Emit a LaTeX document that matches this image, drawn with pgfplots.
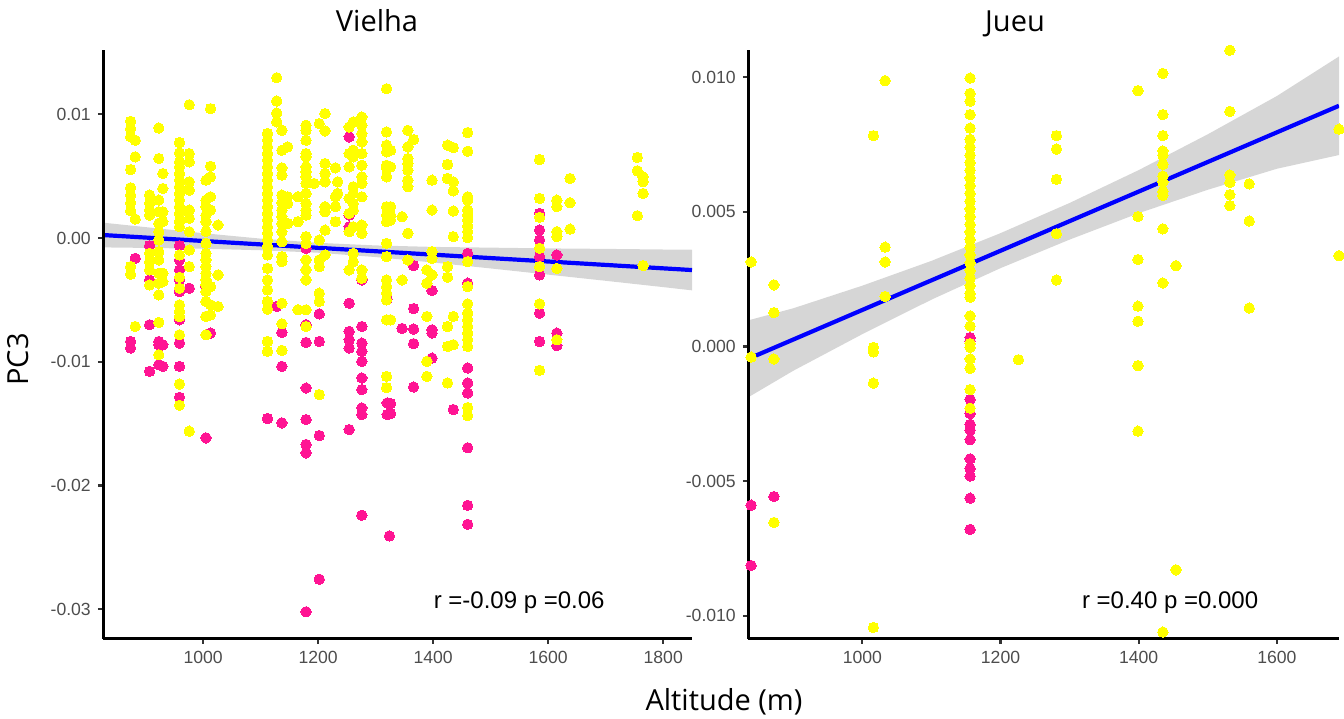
\documentclass[border=0pt]{standalone}
\usepackage{fontspec}
\setmainfont{Liberation Sans}
\newfontfamily\titlefont{Open Sans}
\usepackage{pgfplots}
\pgfplotsset{compat=1.18}
\definecolor{Yel}{RGB}{255,255,0}
\definecolor{Pnk}{RGB}{255,20,147}
\definecolor{Blu}{RGB}{0,0,255}
\definecolor{Band}{RGB}{153,153,153}
\definecolor{TickGray}{RGB}{77,77,77}
\pgfplotsset{
  panel/.style={
    scale only axis,
    axis x line*=bottom, axis y line*=left,
    axis line style={-, line width=1.5bp, black},
    tick align=outside,
    major tick length=2.6bp,
    tick style={line width=1.1bp, color=black!80},
    ticklabel style={font=\fontsize{8.8bp}{10bp}\selectfont, text=TickGray},
    scaled ticks=false,
    axis on top,
  },
  ptsY/.style={only marks, mark=*, mark size=2.6bp, mark options={fill=Yel, draw=Yel, line width=0pt}},
  ptsP/.style={only marks, mark=*, mark size=2.6bp, mark options={fill=Pnk, draw=Pnk, line width=0pt}},
  bandst/.style={draw=none, fill=Band, fill opacity=0.4},
  fitst/.style={Blu, line width=2.1bp},
}
\begin{document}
\begin{tikzpicture}
\useasboundingbox (0,0) rectangle (672bp,359.5bp);
% ---------------- Vielha ----------------
\begin{axis}[panel,
  at={(51.5bp,40.25bp)}, anchor=south west,
  width=294.5bp, height=294.25bp,
  xmin=826, xmax=1850, ymin=-0.03236, ymax=0.01519,
  xtick={1000,1200,1400,1600,1800},
  xticklabels={1000,1200,1400,1600,1800},
  ytick={-0.03,-0.02,-0.01,0,0.01},
  yticklabels={-0.03,-0.02,-0.01,0.00,0.01},
]
\addplot[ptsP] coordinates {
(874,-0.00836)(874,-0.00889)(882,-0.00164)
(907,-0.00062)(907,-0.00339)(907,-0.00701)(907,-0.01077)
(923,-0.00836)(923,-0.00863)(923,-0.01024)(930,-0.00863)(930,-0.01037)
(959,-0.00062)(959,-0.00177)(959,-0.00258)(959,-0.00339)(959,-0.00433)(959,-0.00661)(959,-0.00849)(959,-0.01037)(959,-0.01287)
(976,-0.00406)(1005,-0.00392)(1005,-0.00634)(1005,-0.01615)(1013,-0.00768)
(1112,-0.01459)(1128,-0.00553)(1137,-0.00763)(1137,-0.01037)(1137,-0.01494)
(1179,-0.00083)(1179,-0.00258)(1179,-0.00701)(1179,-0.00844)(1179,-0.01212)(1179,-0.01467)(1179,-0.01668)(1179,-0.01736)(1179,-0.0302)
(1202,-0.00613)(1202,-0.00836)(1202,-0.01596)(1202,-0.02757)
(1254,0.00817)(1254,0.00185)(1254,0.00091)(1254,-0.00527)(1254,-0.00755)(1254,-0.00822)(1254,-0.00889)(1254,-0.01548)
(1276,-0.00339)(1276,-0.00715)(1276,-0.00849)(1276,-0.00916)(1276,-0.00997)(1276,-0.01131)(1276,-0.01225)(1276,-0.01373)(1276,-0.01427)(1276,-0.0224)
(1320,-0.00494)(1320,-0.01333)(1320,-0.01427)(1324,-0.02407)(1326,-0.01338)(1326,-0.01418)
(1346,-0.00731)(1366,-0.00223)(1366,-0.0057)(1366,-0.00736)(1366,-0.00854)(1366,-0.01204)
(1398,-0.00425)(1398,-0.00742)(1398,-0.00768)(1398,-0.0097)(1435,-0.01386)
(1460,-0.00124)(1460,-0.00365)(1460,-0.0105)(1460,-0.01171)(1460,-0.01252)(1460,-0.01695)(1460,-0.0216)(1460,-0.02313)
(1585,0.00199)(1585,0.00064)(1585,-0.00016)(1585,-0.00083)(1585,-0.0015)(1585,-0.00298)(1585,-0.00607)(1585,-0.00836)
(1615,-0.00137)(1615,-0.00768)(1615,-0.0087)
};
\addplot[ptsY] coordinates {
(874,0.00943)(874,0.00884)(874,0.00817)(874,0.00553)(874,0.00406)(874,0.00347)(874,0.00285)(874,0.00220)(874,-0.00231)(874,-0.00293)
(882,0.00790)(882,0.00656)(882,0.00153)(882,-0.00715)
(907,0.00347)(907,0.00279)(907,0.00226)(907,0.00185)(907,-0.00124)(907,-0.00191)(907,-0.00258)(907,-0.00379)
(923,0.00889)(923,0.00642)(923,0.00306)(923,0.00212)(923,0.00118)(923,0.00051)(923,-0.00016)(923,-0.0011)(923,-0.00177)(923,-0.00285)(923,-0.00365)(923,-0.00459)(923,-0.00682)(923,-0.00943)
(930,0.00521)(930,0.0040)(930,0.00212)(930,0.00132)(930,-0.00285)(930,-0.00352)
(959,0.00771)(959,0.00688)(959,0.00615)(959,0.00575)(959,0.00521)(959,0.00467)(959,0.00414)(959,0.0036)(959,0.00306)(959,0.00253)(959,0.00199)(959,0.00132)(959,0.00091)(959,-0.00137)(959,-0.00317)(959,-0.00406)(959,-0.0054)(959,-0.00594)(959,-0.00634)(959,-0.00782)(959,-0.0118)(959,-0.01351)
(976,0.01077)(976,0.00682)(976,0.00615)(976,0.00454)(976,0.00387)(976,0.00226)(976,0.00159)(976,0.00051)(976,-0.00097)(976,-0.00231)(976,-0.01561)
(1005,0.00467)(1005,0.00306)(1005,0.00253)(1005,0.00185)(1005,0.00132)(1005,0.00054)(1005,-0.00043)(1005,-0.00124)(1005,-0.00177)(1005,-0.00231)(1005,-0.00285)(1005,-0.00339)(1005,-0.00379)(1005,-0.00433)(1005,-0.00513)(1005,-0.00634)(1005,-0.00782)
(1013,0.01045)(1013,0.0058)(1013,0.00494)(1013,0.00333)(1013,0.00226)(1013,-0.00392)(1013,-0.0054)(1013,-0.00621)
(1026,0.00105)(1026,-0.00298)(1026,-0.00553)
(1112,0.00844)(1112,0.0079)(1112,0.00736)(1112,0.00682)(1112,0.00629)(1112,0.00575)(1112,0.00521)(1112,0.00467)(1112,0.00414)(1112,0.0036)(1112,0.00306)(1112,0.00253)(1112,0.00199)(1112,0.00145)(1112,0.00091)(1112,0.00038)(1112,-0.00016)(1112,-0.0007)(1112,-0.00137)(1112,-0.00245)(1112,-0.00339)(1112,-0.00419)(1112,-0.00513)(1112,-0.00575)(1112,-0.00836)(1112,-0.00916)
(1128,0.01295)(1128,0.01107)(1128,0.0101)(1128,0.00938)
(1137,0.0087)(1137,0.00709)(1137,0.00567)(1137,0.00508)(1137,0.00347)(1137,0.00285)(1137,0.00226)(1137,0.00172)(1137,0.00118)(1137,0.00051)(1137,-0.0003)(1137,-0.0015)(1137,-0.00191)(1137,-0.00527)(1137,-0.00693)(1137,-0.00908)
(1147,0.00736)(1147,0.00333)(1147,0.00279)(1147,0.00118)
(1165,0.00333)(1165,0.00132)(1165,-0.0058)
(1179,0.00911)(1179,0.0087)(1179,0.0079)(1179,0.00682)(1179,0.00656)(1179,0.00575)(1179,0.00535)(1179,0.00494)(1179,0.00441)(1179,0.0036)(1179,0.00279)(1179,0.00226)(1179,0.00185)(1179,0.00011)(1179,-0.00043)(1179,-0.00177)(1179,-0.00258)(1179,-0.00339)(1179,-0.0058)(1179,-0.00715)
(1193,0.00441)
(1202,0.00924)(1202,-0.00016)(1202,-0.00177)(1202,-0.00231)(1202,-0.00446)(1202,-0.00513)(1202,-0.01265)
(1212,0.01005)(1212,0.00865)(1212,0.00602)(1212,0.00521)(1212,0.00454)(1212,0.00253)(1212,0.00212)(1212,0.00064)(1212,-0.00137)
(1230,0.00567)(1230,0.00333)(1230,0.00253)(1230,0.00132)(1234,0.00454)(1234,0.0036)
(1254,0.00897)(1254,0.00682)(1254,0.00575)(1254,0.0032)(1254,0.00199)(1254,0.00051)(1254,-0.00258)
(1261,0.00938)(1261,0.00709)(1261,0.00656)(1261,0.00414)(1261,0.0036)(1261,0.00279)(1261,0.00226)(1261,0.00091)(1261,-0.00124)(1261,-0.00191)
(1276,0.00978)(1276,0.00911)(1276,0.00844)(1276,0.00776)(1276,0.00682)(1276,0.00588)(1276,0.00494)(1276,0.00441)(1276,0.00333)(1276,0.00105)(1276,0.00038)(1276,-0.00258)(1276,-0.00325)
(1319,0.01206)(1319,0.00857)(1319,0.0075)(1319,0.00696)(1319,0.00588)(1319,0.00562)(1319,0.00494)(1319,0.00253)(1319,0.00185)(1319,0.00132)(1319,-0.00043)(1319,-0.0015)(1319,-0.00339)(1319,-0.00392)(1319,-0.00446)(1319,-0.005)(1319,-0.00661)(1319,-0.01118)(1319,-0.01209)
(1326,0.00709)(1326,0.00575)(1326,0.00253)(1326,0.00185)(1326,0.00145)(1326,-0.00661)
(1346,0.00172)(1346,-0.00339)
(1356,0.0087)(1356,0.00736)(1356,0.00642)(1356,0.00602)(1356,0.00548)(1356,0.00467)(1356,0.00414)(1356,0.00038)(1356,-0.00177)
(1366,0.00795)
(1389,-0.00258)(1389,-0.00365)(1389,-0.00634)(1389,-0.00997)(1389,-0.01118)
(1398,0.00467)(1398,0.00226)(1398,-0.0011)(1398,-0.00164)(1398,-0.00298)
(1425,0.0075)(1425,0.00594)(1425,0.00481)(1425,-0.00231)(1425,-0.00317)(1425,-0.00715)(1425,-0.00876)(1425,-0.01171)
(1435,0.00731)(1435,0.00454)(1435,0.00381)(1435,0.00218)(1435,0.00011)(1435,-0.00634)(1435,-0.00862)
(1460,0.00852)(1460,0.00701)(1460,0.00333)(1460,0.00306)(1460,0.00226)(1460,0.00185)(1460,0.00145)(1460,0.00097)(1460,0.00051)(1460,0.00003)(1460,-0.00191)(1460,-0.00392)(1460,-0.00532)(1460,-0.00607)(1460,-0.00661)(1460,-0.00715)(1460,-0.00768)(1460,-0.00822)(1460,-0.00876)(1460,-0.0137)(1460,-0.01435)
(1585,0.00634)(1585,0.0032)(1585,0.00167)(1585,-0.00083)(1585,-0.00231)(1585,-0.00532)(1585,-0.01069)
(1615,0.00306)(1615,0.00253)(1615,0.00051)(1615,0.00011)(1615,-0.00245)(1615,-0.00822)
(1638,0.00481)(1638,0.00285)(1638,0.00072)
(1755,0.00651)(1755,0.00543)(1755,0.0018)
(1765,0.00493)(1765,0.00455)(1765,0.0036)(1765,-0.00223)
};
\addplot[bandst] coordinates {
(826,0.00124)(900,0.00088)(1000,0.00039)(1100,-0.00005)(1200,-0.00039)(1300,-0.0006)(1400,-0.00072)(1500,-0.00078)(1600,-0.00084)(1700,-0.00088)(1800,-0.00093)(1850,-0.00095)
(1850,-0.00423)(1800,-0.00397)(1700,-0.00346)(1600,-0.00296)(1500,-0.00246)(1400,-0.00198)(1300,-0.00154)(1200,-0.00119)(1100,-0.00099)(1000,-0.00087)(900,-0.0008)(826,-0.00076)
} -- cycle;
\addplot[fitst] coordinates {(826,0.00024)(1850,-0.00259)};
\node[font=\fontsize{12bp}{14bp}\selectfont, text=black] at (axis cs:1549.6,-0.0295) {r =-0.09 p =0.06};
\end{axis}
% ---------------- Jueu ----------------
\begin{axis}[panel,
  at={(374bp,40.25bp)}, anchor=south west,
  width=295.5bp, height=294.25bp,
  xmin=834.5, xmax=1690, ymin=-0.01084, ymax=0.01101,
  xtick={1000,1200,1400,1600},
  xticklabels={1000,1200,1400,1600},
  ytick={-0.010,-0.005,0,0.005,0.010},
  yticklabels={-0.010,-0.005,0.000,0.005,0.010},
]
\addplot[ptsP] coordinates {
(839,-0.00589)(839,-0.00813)(872,-0.00557)
(1156,0.00033)(1156,0.0002)(1156,-0.00196)(1156,-0.00249)(1156,-0.00289)(1156,-0.0031)(1156,-0.00346)(1156,-0.00417)(1156,-0.00453)(1156,-0.00481)(1156,-0.00563)(1156,-0.00679)
};
\addplot[ptsY] coordinates {
(839,0.00314)(839,-0.00039)
(872,0.00229)(872,0.00126)(872,-0.00046)(872,-0.00653)
(1016,0.00783)(1016,-0.00003)(1016,-0.0002)(1016,-0.00136)(1016,-0.01043)
(1033,0.00987)(1033,0.00369)(1033,0.00314)(1033,0.00186)
(1156,0.00997)(1156,0.0094)(1156,0.00911)(1156,0.00861)(1156,0.00811)(1156,0.00769)(1156,0.0074)(1156,0.00711)(1156,0.00683)(1156,0.00655)(1156,0.00626)(1156,0.00597)(1156,0.00569)(1156,0.0054)(1156,0.00511)(1156,0.00483)(1156,0.00454)(1156,0.00426)(1156,0.00397)(1156,0.00369)(1156,0.0034)(1156,0.00311)(1156,0.00283)(1156,0.00254)(1156,0.00226)(1156,0.00197)(1156,0.00183)(1156,0.00114)(1156,0.00076)(1156,0.00011)(1156,-0.00003)(1156,-0.00046)(1156,-0.00081)(1156,-0.0016)(1156,-0.00229)
(1226,-0.00049)
(1281,0.00783)(1281,0.00733)(1281,0.00621)(1281,0.00419)(1281,0.00247)
(1399,0.0095)(1399,0.00483)(1399,0.00323)(1399,0.0015)(1399,0.00094)(1399,-0.00071)(1399,-0.00314)
(1435,0.01014)(1435,0.00861)(1435,0.00783)(1435,0.00726)(1435,0.00711)(1435,0.00676)(1435,0.00633)(1435,0.00611)(1435,0.00576)(1435,0.00561)(1435,0.00437)(1435,0.00236)(1435,-0.0106)
(1454,0.003)(1454,-0.00829)
(1532,0.0110)(1532,0.00873)(1532,0.00637)(1532,0.00609)(1532,0.00564)(1532,0.00523)
(1560,0.00604)(1560,0.00466)(1560,0.00143)
(1690,0.00807)(1690,0.00337)
};
\addplot[bandst] coordinates {
(834.5,0.00097)(900,0.00142)(1000,0.00226)(1100,0.00318)(1200,0.00421)(1300,0.00533)(1400,0.00655)(1500,0.00788)(1600,0.0093)(1690,0.01077)
(1690,0.00711)(1600,0.0066)(1500,0.00582)(1400,0.00495)(1300,0.00397)(1200,0.00291)(1100,0.00174)(1000,0.00046)(900,-0.0009)(834.5,-0.00189)
} -- cycle;
\addplot[fitst] coordinates {(834.5,-0.00046)(1690,0.00894)};
\node[font=\fontsize{12bp}{14bp}\selectfont, text=black] at (axis cs:1445.5,-0.00952) {r =0.40 p =0.000};
\end{axis}
% ---------------- titles ----------------
\node[font=\titlefont\fontsize{14.5bp}{17bp}\selectfont, anchor=base] at (188.5bp,343.6bp) {Vielha};
\node[font=\titlefont\fontsize{14.5bp}{17bp}\selectfont, anchor=base] at (507.5bp,343.6bp) {Jueu};
\node[font=\titlefont\fontsize{14.5bp}{17bp}\selectfont, anchor=base] at (362bp,4.5bp) {Altitude (m)};
\node[font=\titlefont\fontsize{14.5bp}{17bp}\selectfont, anchor=base, rotate=90] at (14bp,179.75bp) {PC3};
\end{tikzpicture}
\end{document}
